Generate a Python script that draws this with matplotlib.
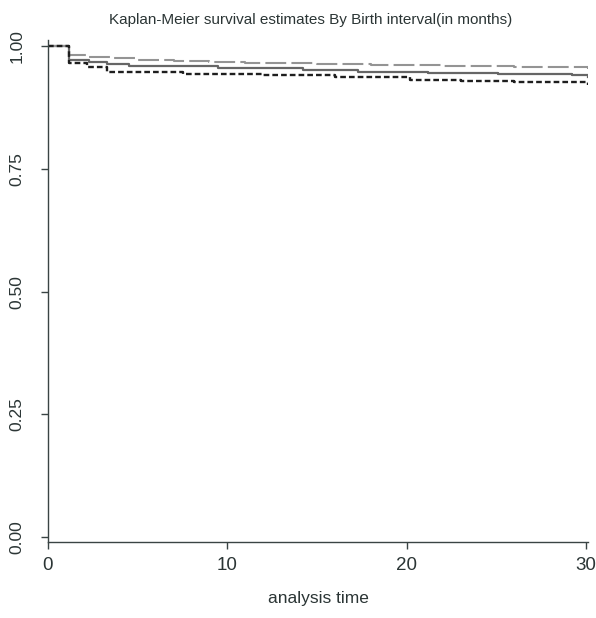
import matplotlib
matplotlib.use("Agg")
import matplotlib.pyplot as plt

# Kaplan-Meier step estimates by birth interval group
t_long = [0, 1.15, 2.3, 3.6, 5, 7, 9, 11, 15, 18, 22, 26, 29, 30.1]
s_long = [1.0, 0.982, 0.978, 0.975, 0.972, 0.969, 0.967, 0.965, 0.963, 0.961, 0.960, 0.958, 0.957, 0.954]

t_mid = [0, 1.15, 2.3, 3.3, 4.5, 9.5, 14.2, 17.3, 21.2, 25.1, 29.2, 30.1]
s_mid = [1.0, 0.972, 0.968, 0.963, 0.960, 0.955, 0.951, 0.948, 0.945, 0.943, 0.941, 0.937]

t_short = [0, 1.15, 2.2, 3.3, 7.5, 12, 16, 20.2, 23, 26, 30.1]
s_short = [1.0, 0.966, 0.958, 0.948, 0.944, 0.941, 0.937, 0.931, 0.929, 0.926, 0.921]

xticks = [0, 10, 20, 30]
yticks = [0.0, 0.25, 0.5, 0.75, 1.0]
ylabels = ["0.00", "0.25", "0.50", "0.75", "1.00"]

sans = ["Liberation Sans", "DejaVu Sans"]
text_col = "#2b3535"
axis_col = "#3a4444"

fig = plt.figure(figsize=(5.96, 6.18), dpi=100)
ax = fig.add_axes([0.0805, 0.123, 0.906, 0.812])

ax.step(t_mid, s_mid, where="post", color="#666666", lw=1.6)
ax.step(t_long, s_long, where="post", color="#949494", lw=1.5, dashes=(10, 2.5))
ax.step(t_short, s_short, where="post", color="#1e1e1e", lw=1.7, dashes=(2.4, 1.3))

ax.set_xlim(0, 30.1)
ax.set_ylim(-0.01, 1.012)
ax.spines["top"].set_visible(False)
ax.spines["right"].set_visible(False)
for side in ("left", "bottom"):
    ax.spines[side].set_color(axis_col)
    ax.spines[side].set_linewidth(1.0)

ax.set_xticks(xticks)
ax.set_xticklabels([str(v) for v in xticks], family=sans, fontsize=13.5, color=text_col)
ax.set_yticks(yticks)
ax.set_yticklabels(ylabels, family=sans, fontsize=12.5, color=text_col,
                   rotation=90, va="center")
ax.tick_params(direction="out", length=5, width=1.0, color=axis_col)
ax.tick_params(axis="x", pad=6)
ax.tick_params(axis="y", pad=12)

ax.set_xlabel("analysis time", family=sans, fontsize=12.5, color=text_col, labelpad=12)
fig.text(0.522, 0.967, "Kaplan-Meier survival estimates By Birth interval(in months)",
         ha="center", va="center", family=sans, fontsize=11, color=text_col)

fig.savefig("out.png", dpi=100)
